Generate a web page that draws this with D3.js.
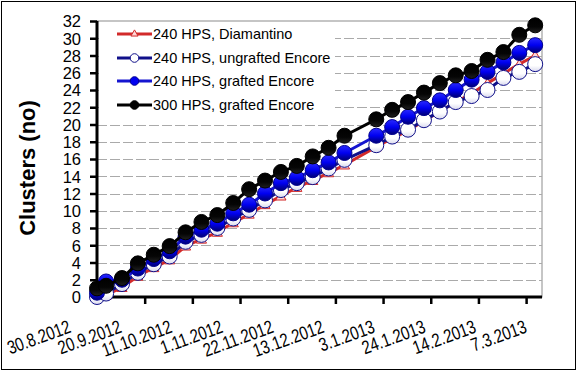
<!DOCTYPE html>
<html><head><meta charset="utf-8">
<script src="https://cdn.jsdelivr.net/npm/d3@7"></script>
<style>body{margin:0;background:#fff}svg{display:block;font-family:Arial,"Liberation Sans",sans-serif}</style>
</head><body><svg id="c" width="577" height="372"></svg>
<script>
const dates = ["2012-08-30","2012-09-03","2012-09-10","2012-09-17","2012-09-24","2012-10-01","2012-10-08","2012-10-15","2012-10-22","2012-10-29","2012-11-05","2012-11-12","2012-11-19","2012-11-26","2012-12-03","2012-12-10","2012-12-17","2012-12-31","2013-01-07","2013-01-14","2013-01-21","2013-01-28","2013-02-04","2013-02-11","2013-02-18","2013-02-25","2013-03-04","2013-03-11"];
const diamantino240 = [0,0.2,1.1,2.4,3.4,4.3,5.9,6.7,7.5,8.6,9.6,10.7,11.7,12.7,13.5,14.4,15.3,17.4,18.4,19.3,20.4,21.5,22.6,23.6,24.8,25.9,27.0,28.0];
const ungrafted240 = [0,0.4,1.5,2.8,3.8,4.7,6.4,7.2,8.0,9.1,10.1,11.2,12.4,13.2,13.9,14.9,15.9,17.6,18.6,19.4,20.5,21.5,22.6,23.3,24.0,25.4,26.1,27.0];
const grafted240 = [0.5,1.8,2.0,3.3,4.4,5.3,7.0,7.8,8.5,9.7,10.7,12.0,13.2,13.8,14.7,15.6,16.7,18.7,19.7,20.9,21.9,22.8,24.0,25.2,26.1,27.2,28.3,29.2];
const grafted300 = [1.0,1.3,2.2,3.9,4.9,5.9,7.5,8.7,9.5,10.9,12.5,13.5,14.5,15.2,16.3,17.3,18.7,20.6,21.7,22.6,23.7,24.8,25.7,26.2,27.5,28.4,30.4,31.5];
const seriesNames = ["240 HPS, Diamantino","240 HPS, ungrafted Encore","240 HPS, grafted Encore","300 HPS, grafted Encore"];
const xTickLabels = ["30.8.2012","20.9.2012","11.10.2012","1.11.2012","22.11.2012","13.12.2012","3.1.2013","24.1.2013","14.2.2013","7.3.2013"];
const yTicks = d3.range(0,33,2);
const xStart = "2012-08-30", xEnd = "2013-03-14";

const parse = d3.timeParse("%Y-%m-%d");
const svg = d3.select("#c");
const L=97, R=542, T=21, B=297;
const x = d3.scaleTime().domain([parse(xStart), parse(xEnd)]).range([L,R]);
const y = d3.scaleLinear().domain([0,32]).range([B,T]);

// outer border
svg.append("rect").attr("x",1.5).attr("y",1.5).attr("width",574).attr("height",368).attr("fill","#fff").attr("stroke","#000").attr("stroke-width",1);

const defs = svg.append("defs");
function grad(id, stops){
  const g = defs.append("linearGradient").attr("id",id).attr("x1",0).attr("y1",0).attr("x2",0).attr("y2",1);
  stops.forEach(s=>g.append("stop").attr("offset",s[0]).attr("stop-color",s[1]));
}
grad("gBlue",[[0,"#2a2aff"],[0.5,"#0000f0"],[1,"#000070"]]);
grad("gBlack",[[0,"#000"],[0.6,"#050505"],[1,"#202020"]]);
grad("gWhite",[[0,"#ffffff"],[0.6,"#ffffff"],[1,"#d8d8ee"]]);

// plot border
svg.append("rect").attr("x",L).attr("y",T).attr("width",R-L).attr("height",B-T).attr("fill","none").attr("stroke","#8c8c8c").attr("stroke-width",1);

// gridlines
svg.append("g").selectAll("line").data(yTicks.filter(v=>v>0&&v<32)).join("line")
  .attr("x1",L).attr("x2",R).attr("y1",d=>Math.round(y(d))+0.5).attr("y2",d=>Math.round(y(d))+0.5)
  .attr("stroke","#aaaaaa").attr("stroke-width",1).attr("stroke-dasharray","10,3");

// legend background
svg.append("rect").attr("x",L+2).attr("y",T+1).attr("width",236).attr("height",92).attr("fill","#fff");

// axes
const xTickDates = xTickLabels.map(s=>{const p=s.split(".");return new Date(+p[2],+p[1]-1,+p[0]);});
const xAxis = d3.axisBottom(x).tickValues(xTickDates).tickSize(7).tickFormat("");
const gx = svg.append("g").attr("transform",`translate(0,${B})`).call(xAxis);
gx.select(".domain").attr("stroke","#000").attr("stroke-width",3).attr("d",`M${L-1},0H${R}`);
gx.selectAll(".tick line").attr("stroke","#000").attr("stroke-width",2.5);

const yAxis = d3.axisLeft(y).tickValues(yTicks).tickSize(7).tickFormat(d3.format("d"));
const gy = svg.append("g").attr("transform",`translate(${L},0)`).call(yAxis);
gy.select(".domain").attr("stroke","#000").attr("stroke-width",3).attr("d",`M0,${T}V${B+1}`);
gy.selectAll(".tick line").attr("stroke","#000").attr("stroke-width",2.5);
gy.selectAll(".tick text").attr("x",-16).attr("dy","0.36em")
  .attr("font-size",16.5).attr("fill","#000").attr("font-family","Arial,'Liberation Sans',sans-serif");

// x labels
const lx = d3.scalePoint().domain(xTickLabels).range([72,528]);
svg.append("g").selectAll("text").data(xTickLabels).join("text")
  .attr("transform",d=>`translate(${lx(d)},${332}) rotate(-20) scale(0.78,1)`)
  .attr("text-anchor","end").attr("font-size",19).attr("fill","#000").text(d=>d);

// y title
svg.append("text").attr("transform",`translate(35,${(T+B)/2+9}) rotate(-90)`).attr("text-anchor","middle")
  .attr("font-size",22).attr("font-weight","bold").text("Clusters (no)");

// series
const series = [
  {name:seriesNames[0], vals:diamantino240, line:"#d22a2a", lw:3, marker:"tri", fill:"#ffd6d6", stroke:"#d22a2a"},
  {name:seriesNames[1], vals:ungrafted240, line:"#10108a", lw:3, marker:"circ", fill:"url(#gWhite)", stroke:"#10108a"},
  {name:seriesNames[2], vals:grafted240, line:"#1515d0", lw:3, marker:"circ", fill:"url(#gBlue)", stroke:"#000090"},
  {name:seriesNames[3], vals:grafted300, line:"#000", lw:3, marker:"circ", fill:"url(#gBlack)", stroke:"#000"}
];
const dts = dates.map(parse);
const line = d3.line().x((d,i)=>x(dts[i])).y(d=>y(d));
const triSym = d3.symbol().type(d3.symbolTriangle).size(45);
series.forEach(s=>{
  const g = svg.append("g");
  g.append("path").attr("d",line(s.vals)).attr("fill","none").attr("stroke",s.line).attr("stroke-width",s.lw).attr("stroke-linejoin","round");
  if(s.marker==="circ"){
    g.selectAll("circle").data(s.vals).join("circle")
      .attr("cx",(d,i)=>x(dts[i])).attr("cy",d=>y(d)).attr("r",7.5)
      .attr("fill",s.fill).attr("stroke",s.stroke).attr("stroke-width",1);
  } else {
    g.selectAll("path.m").data(s.vals).join("path").attr("class","m")
      .attr("transform",(d,i)=>`translate(${x(dts[i])},${y(d)+1})`).attr("d",triSym)
      .attr("fill",s.fill).attr("stroke",s.stroke).attr("stroke-width",1);
  }
});

// legend
const legY = [34,58,81,105];
const lg = svg.append("g");
series.forEach((s,i)=>{
  const gy2 = legY[i];
  lg.append("line").attr("x1",117).attr("x2",152).attr("y1",gy2).attr("y2",gy2).attr("stroke",s.line).attr("stroke-width",3);
  if(s.marker==="circ"){
    lg.append("circle").attr("cx",134.5).attr("cy",gy2).attr("r",4.3).attr("fill",i===1?"#fff":(i===2?"#0000f0":"#000")).attr("stroke",s.stroke).attr("stroke-width",1);
  } else {
    lg.append("path").attr("transform",`translate(134.5,${gy2})`).attr("d",d3.symbol().type(d3.symbolTriangle).size(22)).attr("fill","#ffd6d6").attr("stroke",s.stroke);
  }
  lg.append("text").attr("x",153).attr("y",gy2+5).attr("font-size",14.5).attr("fill","#000").text(s.name);
});
</script></body></html>
